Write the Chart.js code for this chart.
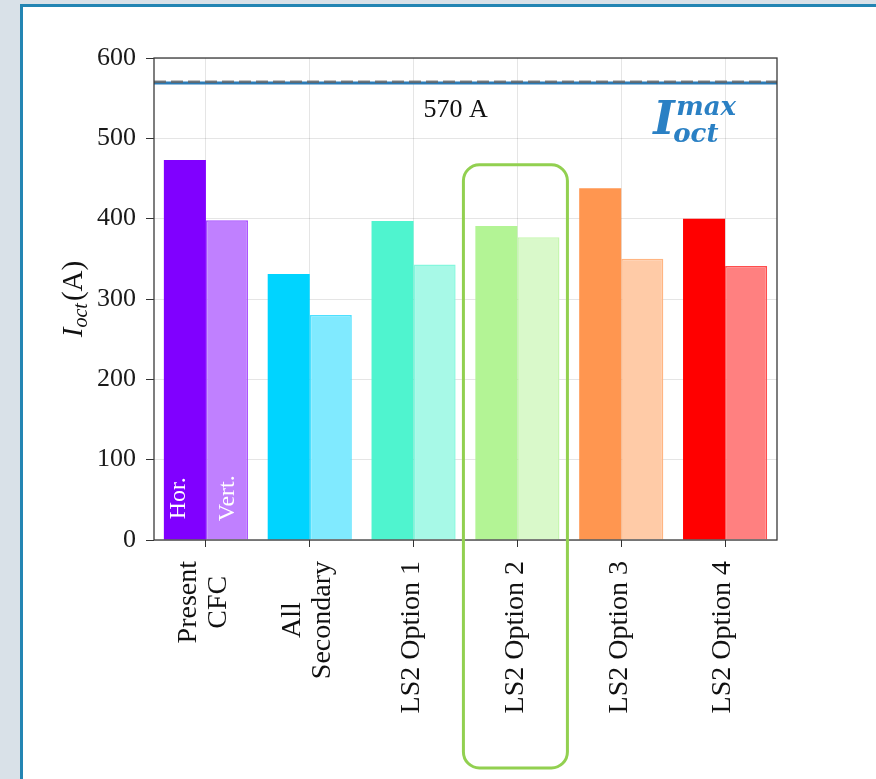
<!DOCTYPE html>
<html>
<head>
<meta charset="utf-8">
<script src="https://cdn.jsdelivr.net/npm/chart.js@4.4.0/dist/chart.umd.min.js"></script>
<style>
    body { margin: 0; background: #d9e1e8; overflow: hidden; }
    #panel { position: absolute; left: 20px; top: 4px; width: 900px; height: 820px; background: #fff; border: 3px solid #2385b3; }
    #myChart { position: absolute; left: 0; top: 0; }
</style>
</head>
<body>
<div id="panel"></div>
<canvas id="myChart" width="876" height="779"></canvas>
<script>
const categories = [['Present', 'CFC'], ['All', 'Secondary'], ['LS2 Option 1'], ['LS2 Option 2'], ['LS2 Option 3'], ['LS2 Option 4']];
const horValues = [473, 331, 397, 391, 438, 400];
const vertValues = [398, 280, 343, 377, 350, 341];
const yTickStep = 100;
const yMax = 600;
const limitValue = 570;
const limitLabel = '570 A';
const highlightIndex = 3;

const horColors = ['#8000ff', '#00d4ff', '#4ff4cf', '#b3f495', '#ff9650', '#ff0000'];
const vertColors = ['#c080ff', '#80eaff', '#a7f9e7', '#d9f9ca', '#ffcba7', '#ff8080'];
const vertEdges = ['#a64dff', '#4de0ff', '#84f7dd', '#c6f7b0', '#ffb582', '#ff4d4d'];

const serif = '"Liberation Serif", "Times New Roman", serif';

// labels, limit line, annotations and the axes frame
const overlay = {
    id: 'overlay',
    afterDraw(chart) {
        const ctx = chart.ctx;
        const area = chart.chartArea;
        const x = chart.scales.x;
        const y = chart.scales.y;

        // limit line: blue solid under a grey dashed one
        const yl = y.getPixelForValue(limitValue);
        ctx.save();
        ctx.beginPath();
        ctx.strokeStyle = '#2c7bb6';
        ctx.lineWidth = 3;
        ctx.moveTo(area.left, yl + 1);
        ctx.lineTo(area.right, yl + 1);
        ctx.stroke();
        ctx.beginPath();
        ctx.strokeStyle = 'rgba(100,100,100,0.8)';
        ctx.lineWidth = 2.5;
        ctx.setLineDash([12, 5]);
        ctx.moveTo(area.left, yl - 0.3);
        ctx.lineTo(area.right, yl - 0.3);
        ctx.stroke();
        ctx.restore();

        // frame
        ctx.save();
        ctx.strokeStyle = '#3a3a3a';
        ctx.lineWidth = 1.3;
        ctx.strokeRect(area.left, area.top, area.right - area.left, area.bottom - area.top);
        ctx.restore();

        // "570 A"
        ctx.save();
        ctx.fillStyle = '#111';
        ctx.font = '26px ' + serif;
        ctx.textBaseline = 'middle';
        ctx.fillText(limitLabel, x.getPixelForValue(2) + 10, y.getPixelForValue(535));
        ctx.restore();

        // I_oct^max
        ctx.save();
        ctx.fillStyle = '#2a80c4';
        const ix = x.getPixelForValue(4) + 32;
        const iy = y.getPixelForValue(505);
        ctx.font = 'bold italic 46px "DejaVu Serif"';
        ctx.fillText('I', ix, iy);
        ctx.font = 'bold italic 26px "DejaVu Serif"';
        ctx.fillText('max', ix + 23, iy - 19);
        ctx.fillText('oct', ix + 20, iy + 8);
        ctx.restore();

        // Hor. / Vert. inside the first pair of bars
        const hb = chart.getDatasetMeta(0).data[0];
        const vb = chart.getDatasetMeta(1).data[0];
        ctx.save();
        ctx.fillStyle = '#fff';
        ctx.font = '24px ' + serif;
        ctx.textAlign = 'center';
        ctx.textBaseline = 'middle';
        [[hb.x - 6, 'Hor.'], [vb.x + 1, 'Vert.']].forEach(([px, t]) => {
            ctx.save();
            ctx.translate(px, y.getPixelForValue(52));
            ctx.rotate(-Math.PI / 2);
            ctx.fillText(t, 0, 0);
            ctx.restore();
        });
        ctx.restore();

        // category labels, rotated, lines centred on each other
        ctx.save();
        ctx.fillStyle = '#111';
        ctx.font = '28px ' + serif;
        ctx.textAlign = 'center';
        ctx.textBaseline = 'middle';
        categories.forEach((lab, i) => {
            const w = Math.max(...lab.map(l => ctx.measureText(l).width));
            ctx.save();
            ctx.translate(x.getPixelForValue(i), area.bottom + 21);
            ctx.rotate(-Math.PI / 2);
            lab.forEach((l, j) => ctx.fillText(l, -w / 2, (j - (lab.length - 1) / 2) * 30 - 2));
            ctx.restore();
        });
        ctx.restore();

        // y title  I_oct(A)
        ctx.save();
        ctx.fillStyle = '#111';
        ctx.translate(82, (area.top + area.bottom) / 2);
        ctx.rotate(-Math.PI / 2);
        const big = 'italic 29px ' + serif, small = 'italic 20px ' + serif, up = '29px ' + serif;
        ctx.font = big; const w1 = ctx.measureText('I').width;
        ctx.font = small; const w2 = ctx.measureText('oct').width;
        ctx.font = up; const w3 = ctx.measureText('(A)').width;
        let tx = -(w1 + w2 + w3 + 2) / 2;
        ctx.font = big; ctx.fillText('I', tx, 0); tx += w1;
        ctx.font = small; ctx.fillText('oct', tx, 5); tx += w2 + 2;
        ctx.font = up; ctx.fillText('(A)', tx, 0);
        ctx.restore();

        // highlight box round LS2 Option 2
        const cx = x.getPixelForValue(highlightIndex);
        ctx.save();
        ctx.strokeStyle = '#92d050';
        ctx.lineWidth = 3;
        ctx.beginPath();
        ctx.roundRect(cx - 54, y.getPixelForValue(467), 104, chart.height - 11 - y.getPixelForValue(467), 16);
        ctx.stroke();
        ctx.restore();
    }
};

const config = {
    type: 'bar',
    data: {
        labels: categories,
        datasets: [{
            label: 'Hor.',
            data: horValues,
            backgroundColor: horColors,
            borderWidth: 0
        }, {
            label: 'Vert.',
            data: vertValues,
            backgroundColor: vertColors,
            borderColor: vertEdges,
            borderWidth: 1.5
        }]
    },
    options: {
        responsive: false,
        animation: false,
        devicePixelRatio: 1,
        layout: { padding: { left: 0, top: 58, right: 99, bottom: 0 } },
        datasets: { bar: { categoryPercentage: 0.81, barPercentage: 1.0 } },
        plugins: { legend: { display: false }, tooltip: { enabled: false } },
        scales: {
            x: {
                z: 1,
                ticks: { display: false },
                grid: { offset: false, color: 'rgba(0,0,0,0.1)', tickColor: '#333', tickLength: 7 },
                border: { display: false },
                afterFit: s => { s.height = 239; }
            },
            y: {
                z: 1,
                min: 0,
                max: yMax,
                ticks: { stepSize: yTickStep, color: '#1a1a1a', font: { family: serif, size: 26 }, padding: 10 },
                grid: { color: 'rgba(0,0,0,0.1)', tickColor: '#333', tickLength: 8 },
                border: { display: false },
                afterFit: s => { s.width = 154; }
            }
        }
    },
    plugins: [overlay]
};

const myChart = new Chart(document.getElementById('myChart'), config);
</script>
</body>
</html>
